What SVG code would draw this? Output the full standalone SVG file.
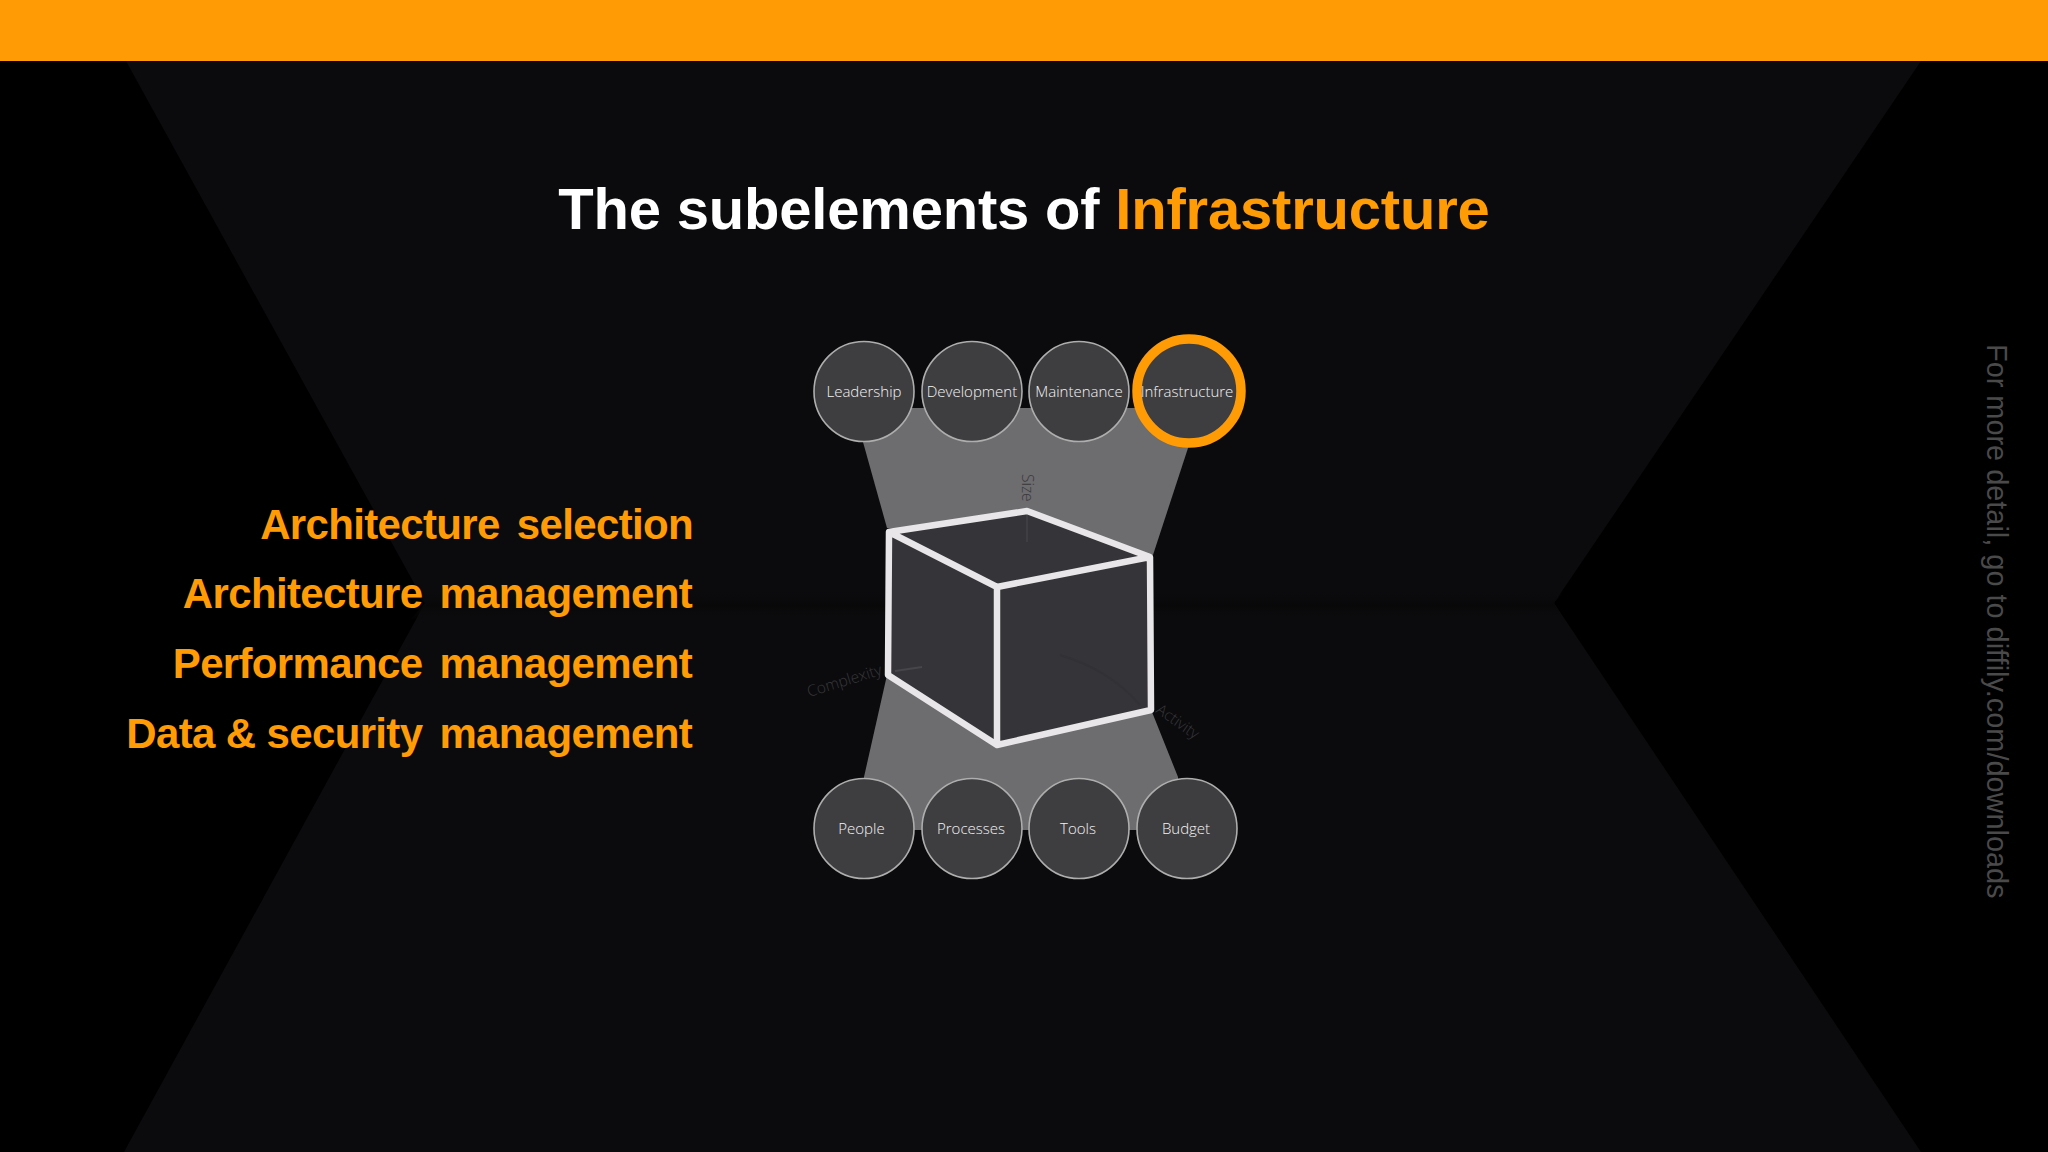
<svg xmlns="http://www.w3.org/2000/svg" width="2048" height="1152" viewBox="0 0 2048 1152">
<defs>
<style>
.lbl{font-family:"Open Sans","Noto Sans",sans-serif;font-size:15px;font-weight:300;fill:#f4f4f4;text-anchor:middle}
.c{fill:#3e3d40;stroke:#aeaeae;stroke-width:1.6}
.ax{font-family:"Open Sans","Noto Sans",sans-serif;font-size:15.5px;font-weight:300;fill:#38383a}
.list{font-family:"Liberation Sans",Arial,sans-serif;font-weight:700;font-size:42px;fill:#ff9c05;text-anchor:end;word-spacing:6px;letter-spacing:-0.65px}
</style>
<linearGradient id="band" x1="0" y1="0" x2="0" y2="1"><stop offset="0" stop-color="#0b0b0d" stop-opacity="0"/><stop offset="0.5" stop-color="#080809"/><stop offset="1" stop-color="#0b0b0d" stop-opacity="0"/></linearGradient>
</defs>
<rect id="background" width="2048" height="1152" fill="#000"/>
<polygon id="room" points="126,61 1921,61 1554,603 1921,1152 124,1152 425,603" fill="#0b0b0d"/>
<polygon points="410,590 1565,590 1554,603 1565,620 410,620 425,603" fill="url(#band)"/>
<rect id="top-bar" width="2048" height="61" fill="#ff9c05"/>
<text id="title" x="1024" y="229" text-anchor="middle" font-family="'Liberation Sans',Arial,sans-serif" font-weight="700" font-size="58px" letter-spacing="-0.2px" fill="#fff">The subelements of <tspan fill="#ff9c05">Infrastructure</tspan></text>
<g id="subelements">
<text class="list" x="693" y="539">Architecture selection</text>
<text class="list" x="692" y="608">Architecture management</text>
<text class="list" x="692" y="678">Performance management</text>
<text class="list" x="692" y="747.500"><tspan word-spacing="0">Data &amp; </tspan>security management</text>
</g>
<g id="connectors">
<polygon points="864,408 1189,408 1189,445 1153,555 887,528 863,442" fill="#6d6c6f"/>
<polygon points="887,675 1152,712 1178,777 1178,830 864,830 864,777" fill="#6d6c6f"/>
</g>
<g id="cube">
<polygon points="889,532 1027,511 1150,557 1151,710 997,745 888,675" fill="#353438"/>
<line x1="1027" y1="515" x2="1027" y2="542" stroke="#3f3e42" stroke-width="2"/>
<line x1="895" y1="671" x2="922" y2="667" stroke="#47464a" stroke-width="2"/>
<path d="M1060,655 Q1110,670 1140,705" fill="none" stroke="#323135" stroke-width="2"/>
<path d="M889,532 L1027,511 L1150,557 L1151,710 L997,745 L888,675 Z M889,532 L997,587 L1150,557 M997,587 L997,745" fill="none" stroke="#e8e6e8" stroke-width="6.500" stroke-linejoin="round"/>
<text class="ax" transform="translate(1022,474) rotate(90)">Size</text>
<text class="ax" transform="translate(809,697) rotate(-17)">Complexity</text>
<text class="ax" transform="translate(1155,712) rotate(35)">Activity</text>
</g>
<g id="node-leadership"><circle class="c" cx="864" cy="391.500" r="50"/><text class="lbl" x="864" y="397">Leadership</text></g>
<g id="node-development"><circle class="c" cx="972" cy="391.500" r="50"/><text class="lbl" x="972" y="397">Development</text></g>
<g id="node-maintenance"><circle class="c" cx="1079" cy="391.500" r="50"/><text class="lbl" x="1079" y="397">Maintenance</text></g>
<g id="node-infrastructure"><circle cx="1189" cy="391" r="52" fill="#3e3d40" stroke="#ff9c05" stroke-width="9.500"/><text class="lbl" x="1187" y="397">Infrastructure</text></g>
<g id="node-people"><circle class="c" cx="864" cy="828.500" r="50"/><text class="lbl" x="861.500" y="834">People</text></g>
<g id="node-processes"><circle class="c" cx="972" cy="828.500" r="50"/><text class="lbl" x="971" y="834">Processes</text></g>
<g id="node-tools"><circle class="c" cx="1079" cy="828.500" r="50"/><text class="lbl" x="1078" y="834">Tools</text></g>
<g id="node-budget"><circle class="c" cx="1187" cy="828.500" r="50"/><text class="lbl" x="1186" y="834">Budget</text></g>
<text id="side-note" transform="translate(1987,344) rotate(90)" font-family="'Liberation Sans',Arial,sans-serif" font-size="28.900px" fill="#4a4a4a">For more detail, go to diffily.com/downloads</text>
</svg>
